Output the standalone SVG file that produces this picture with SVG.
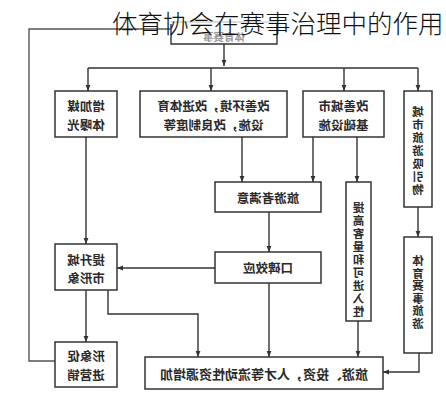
<svg xmlns="http://www.w3.org/2000/svg" width="446" height="400" viewBox="0 0 446 400">
<defs>
<marker id="ah" viewBox="0 0 10 10" refX="10" refY="5" markerWidth="6" markerHeight="6" markerUnits="userSpaceOnUse" orient="auto">
<path d="M0,1 L10,5 L0,9 z" fill="#333"/>
</marker>
<style>
.box{fill:#fff;stroke:#333;stroke-width:1.5}
.ln{fill:none;stroke:#333;stroke-width:1.4}
.ar{fill:none;stroke:#333;stroke-width:1.4;marker-end:url(#ah)}
.t{font-family:"Noto Sans CJK SC","Noto Sans",sans-serif;font-size:12.5px;font-weight:700;fill:#2a2a2a;text-anchor:middle;dominant-baseline:central}
.v{font-size:11.5px;writing-mode:vertical-rl;text-orientation:upright}
.title{font-family:"Noto Sans CJK SC","Noto Sans",sans-serif;font-size:25.5px;font-weight:300;fill:#111;dominant-baseline:central}
</style>
</defs>
<rect width="446" height="400" fill="#fff"/>

<g id="connectors">
<path class="ln" d="M171,29 H29 V361 H55" style="stroke:#555"/>
<path class="ar" d="M224,44 V66"/>
<path class="ln" d="M88,68 H418"/>
<path class="ar" d="M88,68 V91"/>
<path class="ar" d="M211,68 V91"/>
<path class="ar" d="M344,68 V91"/>
<path class="ar" d="M418,68 V91"/>
<path class="ar" d="M86,137 V244"/>
<path class="ar" d="M242,137 V182"/>
<path class="ar" d="M313,137 V182"/>
<path class="ar" d="M357,137 V182"/>
<path class="ar" d="M418,207 V237"/>
<path class="ar" d="M269,212 V252"/>
<path class="ar" d="M215,268 H117"/>
<path class="ar" d="M269,283 V357"/>
<path class="ar" d="M86,290 V342"/>
<path class="ar" d="M108,290 V314 H198 V357"/>
<path class="ar" d="M358,321 V357"/>
<path class="ar" d="M419,353 V372 H383"/>
</g>

<g id="top">
<path d="M171,22 H277" stroke="#bbb" stroke-width="1.2" fill="none"/>
<path class="ln" d="M171,24 V44 H277 V24"/>
<text class="t" transform="translate(224,36) scale(-1,1)" style="fill:#999;font-size:10.5px">体育赛事</text>
</g>

<g id="n1">
<rect class="box" x="55" y="91" width="62" height="46"/>
<text class="t" transform="translate(86,105) scale(-1,1)">增加媒</text>
<text class="t" transform="translate(86,124) scale(-1,1)">体曝光</text>
</g>

<g id="n2">
<rect class="box" x="140" y="91" width="147" height="46"/>
<text class="t" transform="translate(213.5,105) scale(-1,1)">改善环境，改进体育</text>
<text class="t" transform="translate(213.5,124) scale(-1,1)">设施，改良制度等</text>
</g>

<g id="n3">
<rect class="box" x="303" y="91" width="81" height="46"/>
<text class="t" transform="translate(343.5,105) scale(-1,1)">改善城市</text>
<text class="t" transform="translate(343.5,124) scale(-1,1)">基础设施</text>
</g>

<g id="n4">
<rect class="box" x="404" y="91" width="28" height="116"/>
<text class="t v" transform="translate(418,151.6) scale(-1,1)" style="letter-spacing:1.6px">城市旅游吸引物</text>
</g>

<g id="n5">
<rect class="box" x="215" y="182" width="106" height="30"/>
<text class="t" transform="translate(268,197) scale(-1,1)">旅游者满意</text>
</g>

<g id="n6">
<rect class="box" x="346" y="182" width="25" height="139"/>
<text class="t v" transform="translate(358.5,260.7) scale(-1,1)" style="letter-spacing:1.5px">提高客量和可进入性</text>
</g>

<g id="n7">
<rect class="box" x="215" y="252" width="106" height="31"/>
<text class="t" transform="translate(268,267.5) scale(-1,1)">口碑效应</text>
</g>

<g id="n8">
<rect class="box" x="55" y="244" width="62" height="46"/>
<text class="t" transform="translate(86,259) scale(-1,1)">提升城</text>
<text class="t" transform="translate(86,277) scale(-1,1)">市形象</text>
</g>

<g id="n9">
<rect class="box" x="404" y="237" width="28" height="116"/>
<text class="t v" transform="translate(418,292.8) scale(-1,1)" style="letter-spacing:1px">体育赛事旅游</text>
</g>

<g id="n10">
<rect class="box" x="55" y="342" width="62" height="45"/>
<text class="t" transform="translate(86,355) scale(-1,1)">形象促</text>
<text class="t" transform="translate(86,374) scale(-1,1)">进营销</text>
</g>

<g id="n11">
<rect class="box" x="145" y="357" width="238" height="32"/>
<text class="t" transform="translate(264,373) scale(-1,1)" style="font-size:13px">旅游、投资，人才等流动性资源增加</text>
</g>

<text class="title" x="112" y="21">体育协会在赛事治理中的作用</text>
</svg>
